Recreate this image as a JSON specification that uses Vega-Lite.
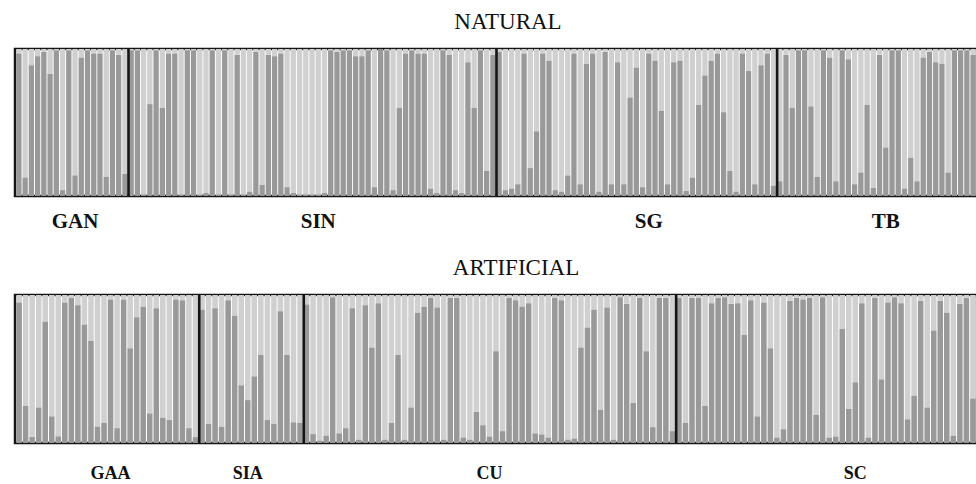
{
  "$schema": "https://vega.github.io/schema/vega-lite/v6.json",
  "padding": {"left": 13, "right": 1, "top": 9, "bottom": 0},
  "background": "white",
  "datasets": {
    "natural": [
      {"id":1,"pop":"GAN","q":0.97},{"id":2,"pop":"GAN","q":0.125},{"id":3,"pop":"GAN","q":0.89},{"id":4,"pop":"GAN","q":0.95},{"id":5,"pop":"GAN","q":0.98},{"id":6,"pop":"GAN","q":0.83},{"id":7,"pop":"GAN","q":0.99},{"id":8,"pop":"GAN","q":0.04},{"id":9,"pop":"GAN","q":0.99},{"id":10,"pop":"GAN","q":0.14},{"id":11,"pop":"GAN","q":0.94},{"id":12,"pop":"GAN","q":0.99},{"id":13,"pop":"GAN","q":0.97},{"id":14,"pop":"GAN","q":0.97},{"id":15,"pop":"GAN","q":0.13},{"id":16,"pop":"GAN","q":0.99},{"id":17,"pop":"GAN","q":0.96},{"id":18,"pop":"GAN","q":0.15},
      {"id":19,"pop":"SIN","q":0.99},{"id":20,"pop":"SIN","q":0.99},{"id":21,"pop":"SIN","q":0.01},{"id":22,"pop":"SIN","q":0.625},{"id":23,"pop":"SIN","q":0.99},{"id":24,"pop":"SIN","q":0.6},{"id":25,"pop":"SIN","q":0.97},{"id":26,"pop":"SIN","q":0.97},{"id":27,"pop":"SIN","q":0.01},{"id":28,"pop":"SIN","q":0.99},{"id":29,"pop":"SIN","q":0.99},{"id":30,"pop":"SIN","q":0.01},{"id":31,"pop":"SIN","q":0.02},{"id":32,"pop":"SIN","q":0.99},{"id":33,"pop":"SIN","q":0.01},{"id":34,"pop":"SIN","q":0.99},{"id":35,"pop":"SIN","q":0.01},{"id":36,"pop":"SIN","q":0.96},{"id":37,"pop":"SIN","q":0.01},{"id":38,"pop":"SIN","q":0.03},{"id":39,"pop":"SIN","q":0.98},{"id":40,"pop":"SIN","q":0.076},{"id":41,"pop":"SIN","q":0.96},{"id":42,"pop":"SIN","q":0.95},{"id":43,"pop":"SIN","q":0.97},{"id":44,"pop":"SIN","q":0.06},{"id":45,"pop":"SIN","q":0.02},{"id":46,"pop":"SIN","q":0.01},{"id":47,"pop":"SIN","q":0.01},{"id":48,"pop":"SIN","q":0.01},{"id":49,"pop":"SIN","q":0.01},{"id":50,"pop":"SIN","q":0.02},{"id":51,"pop":"SIN","q":0.99},{"id":52,"pop":"SIN","q":0.98},{"id":53,"pop":"SIN","q":0.99},{"id":54,"pop":"SIN","q":0.99},{"id":55,"pop":"SIN","q":0.95},{"id":56,"pop":"SIN","q":0.95},{"id":57,"pop":"SIN","q":0.99},{"id":58,"pop":"SIN","q":0.06},{"id":59,"pop":"SIN","q":1.0},{"id":60,"pop":"SIN","q":0.99},{"id":61,"pop":"SIN","q":0.04},{"id":62,"pop":"SIN","q":0.6},{"id":63,"pop":"SIN","q":0.97},{"id":64,"pop":"SIN","q":0.99},{"id":65,"pop":"SIN","q":0.97},{"id":66,"pop":"SIN","q":0.97},{"id":67,"pop":"SIN","q":0.05},{"id":68,"pop":"SIN","q":0.02},{"id":69,"pop":"SIN","q":0.99},{"id":70,"pop":"SIN","q":0.96},{"id":71,"pop":"SIN","q":0.04},{"id":72,"pop":"SIN","q":0.02},{"id":73,"pop":"SIN","q":0.91},{"id":74,"pop":"SIN","q":0.6},{"id":75,"pop":"SIN","q":0.99},{"id":76,"pop":"SIN","q":0.17},{"id":77,"pop":"SIN","q":0.96},
      {"id":78,"pop":"SG","q":0.98},{"id":79,"pop":"SG","q":0.04},{"id":80,"pop":"SG","q":0.05},{"id":81,"pop":"SG","q":0.08},{"id":82,"pop":"SG","q":0.97},{"id":83,"pop":"SG","q":0.19},{"id":84,"pop":"SG","q":0.44},{"id":85,"pop":"SG","q":0.97},{"id":86,"pop":"SG","q":0.92},{"id":87,"pop":"SG","q":0.04},{"id":88,"pop":"SG","q":0.03},{"id":89,"pop":"SG","q":0.14},{"id":90,"pop":"SG","q":0.97},{"id":91,"pop":"SG","q":0.08},{"id":92,"pop":"SG","q":0.9},{"id":93,"pop":"SG","q":0.97},{"id":94,"pop":"SG","q":0.03},{"id":95,"pop":"SG","q":0.98},{"id":96,"pop":"SG","q":0.08},{"id":97,"pop":"SG","q":0.91},{"id":98,"pop":"SG","q":0.08},{"id":99,"pop":"SG","q":0.67},{"id":100,"pop":"SG","q":0.875},{"id":101,"pop":"SG","q":0.06},{"id":102,"pop":"SG","q":0.97},{"id":103,"pop":"SG","q":0.92},{"id":104,"pop":"SG","q":0.58},{"id":105,"pop":"SG","q":0.08},{"id":106,"pop":"SG","q":0.91},{"id":107,"pop":"SG","q":0.92},{"id":108,"pop":"SG","q":0.035},{"id":109,"pop":"SG","q":0.125},{"id":110,"pop":"SG","q":0.62},{"id":111,"pop":"SG","q":0.82},{"id":112,"pop":"SG","q":0.92},{"id":113,"pop":"SG","q":0.97},{"id":114,"pop":"SG","q":0.57},{"id":115,"pop":"SG","q":0.17},{"id":116,"pop":"SG","q":0.03},{"id":117,"pop":"SG","q":0.97},{"id":118,"pop":"SG","q":0.85},{"id":119,"pop":"SG","q":0.08},{"id":120,"pop":"SG","q":0.89},{"id":121,"pop":"SG","q":0.97},{"id":122,"pop":"SG","q":0.07},
      {"id":123,"pop":"TB","q":0.1},{"id":124,"pop":"TB","q":0.96},{"id":125,"pop":"TB","q":0.6},{"id":126,"pop":"TB","q":0.99},{"id":127,"pop":"TB","q":0.99},{"id":128,"pop":"TB","q":0.61},{"id":129,"pop":"TB","q":0.13},{"id":130,"pop":"TB","q":0.99},{"id":131,"pop":"TB","q":0.94},{"id":132,"pop":"TB","q":0.1},{"id":133,"pop":"TB","q":0.99},{"id":134,"pop":"TB","q":0.93},{"id":135,"pop":"TB","q":0.08},{"id":136,"pop":"TB","q":0.16},{"id":137,"pop":"TB","q":0.62},{"id":138,"pop":"TB","q":0.055},{"id":139,"pop":"TB","q":0.96},{"id":140,"pop":"TB","q":0.33},{"id":141,"pop":"TB","q":0.99},{"id":142,"pop":"TB","q":0.99},{"id":143,"pop":"TB","q":0.05},{"id":144,"pop":"TB","q":0.26},{"id":145,"pop":"TB","q":0.1},{"id":146,"pop":"TB","q":0.94},{"id":147,"pop":"TB","q":0.98},{"id":148,"pop":"TB","q":0.91},{"id":149,"pop":"TB","q":0.9},{"id":150,"pop":"TB","q":0.16},{"id":151,"pop":"TB","q":0.99},{"id":152,"pop":"TB","q":0.99},{"id":153,"pop":"TB","q":0.99},{"id":154,"pop":"TB","q":0.96}
    ],
    "artificial": [
      {"id":1,"pop":"GAA","q":0.95},{"id":2,"pop":"GAA","q":0.25},{"id":3,"pop":"GAA","q":0.04},{"id":4,"pop":"GAA","q":0.24},{"id":5,"pop":"GAA","q":0.82},{"id":6,"pop":"GAA","q":0.18},{"id":7,"pop":"GAA","q":0.045},{"id":8,"pop":"GAA","q":0.95},{"id":9,"pop":"GAA","q":0.98},{"id":10,"pop":"GAA","q":0.93},{"id":11,"pop":"GAA","q":0.8},{"id":12,"pop":"GAA","q":0.69},{"id":13,"pop":"GAA","q":0.11},{"id":14,"pop":"GAA","q":0.135},{"id":15,"pop":"GAA","q":0.97},{"id":16,"pop":"GAA","q":0.1},{"id":17,"pop":"GAA","q":0.97},{"id":18,"pop":"GAA","q":0.64},{"id":19,"pop":"GAA","q":0.85},{"id":20,"pop":"GAA","q":0.92},{"id":21,"pop":"GAA","q":0.2},{"id":22,"pop":"GAA","q":0.91},{"id":23,"pop":"GAA","q":0.17},{"id":24,"pop":"GAA","q":0.155},{"id":25,"pop":"GAA","q":0.97},{"id":26,"pop":"GAA","q":0.965},{"id":27,"pop":"GAA","q":0.1},{"id":28,"pop":"GAA","q":0.04},
      {"id":29,"pop":"SIA","q":0.9},{"id":30,"pop":"SIA","q":0.13},{"id":31,"pop":"SIA","q":0.91},{"id":32,"pop":"SIA","q":0.11},{"id":33,"pop":"SIA","q":0.965},{"id":34,"pop":"SIA","q":0.86},{"id":35,"pop":"SIA","q":0.39},{"id":36,"pop":"SIA","q":0.29},{"id":37,"pop":"SIA","q":0.45},{"id":38,"pop":"SIA","q":0.595},{"id":39,"pop":"SIA","q":0.155},{"id":40,"pop":"SIA","q":0.13},{"id":41,"pop":"SIA","q":0.89},{"id":42,"pop":"SIA","q":0.595},{"id":43,"pop":"SIA","q":0.14},{"id":44,"pop":"SIA","q":0.135},
      {"id":45,"pop":"CU","q":0.935},{"id":46,"pop":"CU","q":0.06},{"id":47,"pop":"CU","q":0.016},{"id":48,"pop":"CU","q":0.05},{"id":49,"pop":"CU","q":0.985},{"id":50,"pop":"CU","q":0.065},{"id":51,"pop":"CU","q":0.1},{"id":52,"pop":"CU","q":0.91},{"id":53,"pop":"CU","q":0.023},{"id":54,"pop":"CU","q":0.93},{"id":55,"pop":"CU","q":0.645},{"id":56,"pop":"CU","q":0.945},{"id":57,"pop":"CU","q":0.023},{"id":58,"pop":"CU","q":0.135},{"id":59,"pop":"CU","q":0.595},{"id":60,"pop":"CU","q":0.023},{"id":61,"pop":"CU","q":0.24},{"id":62,"pop":"CU","q":0.88},{"id":63,"pop":"CU","q":0.92},{"id":64,"pop":"CU","q":0.98},{"id":65,"pop":"CU","q":0.915},{"id":66,"pop":"CU","q":0.023},{"id":67,"pop":"CU","q":0.98},{"id":68,"pop":"CU","q":0.98},{"id":69,"pop":"CU","q":0.037},{"id":70,"pop":"CU","q":0.023},{"id":71,"pop":"CU","q":0.21},{"id":72,"pop":"CU","q":0.12},{"id":73,"pop":"CU","q":0.044},{"id":74,"pop":"CU","q":0.62},{"id":75,"pop":"CU","q":0.08},{"id":76,"pop":"CU","q":0.98},{"id":77,"pop":"CU","q":0.965},{"id":78,"pop":"CU","q":0.92},{"id":79,"pop":"CU","q":0.945},{"id":80,"pop":"CU","q":0.065},{"id":81,"pop":"CU","q":0.058},{"id":82,"pop":"CU","q":0.037},{"id":83,"pop":"CU","q":0.98},{"id":84,"pop":"CU","q":0.965},{"id":85,"pop":"CU","q":0.023},{"id":86,"pop":"CU","q":0.03},{"id":87,"pop":"CU","q":0.645},{"id":88,"pop":"CU","q":0.78},{"id":89,"pop":"CU","q":0.9},{"id":90,"pop":"CU","q":0.225},{"id":91,"pop":"CU","q":0.915},{"id":92,"pop":"CU","q":0.023},{"id":93,"pop":"CU","q":0.985},{"id":94,"pop":"CU","q":0.94},{"id":95,"pop":"CU","q":0.27},{"id":96,"pop":"CU","q":0.98},{"id":97,"pop":"CU","q":0.62},{"id":98,"pop":"CU","q":0.107},{"id":99,"pop":"CU","q":0.98},{"id":100,"pop":"CU","q":0.98},{"id":101,"pop":"CU","q":0.08},
      {"id":102,"pop":"SC","q":0.98},{"id":103,"pop":"SC","q":0.135},{"id":104,"pop":"SC","q":0.98},{"id":105,"pop":"SC","q":0.98},{"id":106,"pop":"SC","q":0.25},{"id":107,"pop":"SC","q":0.945},{"id":108,"pop":"SC","q":0.98},{"id":109,"pop":"SC","q":0.985},{"id":110,"pop":"SC","q":0.94},{"id":111,"pop":"SC","q":0.945},{"id":112,"pop":"SC","q":0.73},{"id":113,"pop":"SC","q":0.965},{"id":114,"pop":"SC","q":0.18},{"id":115,"pop":"SC","q":0.95},{"id":116,"pop":"SC","q":0.64},{"id":117,"pop":"SC","q":0.037},{"id":118,"pop":"SC","q":0.093},{"id":119,"pop":"SC","q":0.96},{"id":120,"pop":"SC","q":0.98},{"id":121,"pop":"SC","q":0.97},{"id":122,"pop":"SC","q":0.98},{"id":123,"pop":"SC","q":0.19},{"id":124,"pop":"SC","q":0.985},{"id":125,"pop":"SC","q":0.037},{"id":126,"pop":"SC","q":0.044},{"id":127,"pop":"SC","q":0.77},{"id":128,"pop":"SC","q":0.23},{"id":129,"pop":"SC","q":0.41},{"id":130,"pop":"SC","q":0.945},{"id":131,"pop":"SC","q":0.037},{"id":132,"pop":"SC","q":0.98},{"id":133,"pop":"SC","q":0.43},{"id":134,"pop":"SC","q":0.95},{"id":135,"pop":"SC","q":0.985},{"id":136,"pop":"SC","q":0.945},{"id":137,"pop":"SC","q":0.16},{"id":138,"pop":"SC","q":0.32},{"id":139,"pop":"SC","q":0.96},{"id":140,"pop":"SC","q":0.24},{"id":141,"pop":"SC","q":0.76},{"id":142,"pop":"SC","q":0.96},{"id":143,"pop":"SC","q":0.88},{"id":144,"pop":"SC","q":0.05},{"id":145,"pop":"SC","q":0.94},{"id":146,"pop":"SC","q":0.98},{"id":147,"pop":"SC","q":0.3}
    ],
    "naturalBreaks": [{"id":19},{"id":78},{"id":123}],
    "artificialBreaks": [{"id":29},{"id":45},{"id":102}]
  },
  "config": {
    "view": {"stroke": "#141414", "strokeWidth": 2.5},
    "axis": {"domain": false, "ticks": false, "grid": false, "labelFont": "Liberation Serif", "labelFontWeight": "bold", "labelColor": "#111111", "title": null},
    "title": {"font": "Liberation Serif", "fontSize": 23, "fontWeight": "normal", "color": "#111111", "anchor": "middle"},
    "concat": {"spacing": 22}
  },
  "vconcat": [
    {
      "width": 962,
      "height": 147,
      "title": {"text": "NATURAL", "offset": 14, "dx": 12},
      "layer": [
        {
          "data": {"name": "natural"},
          "mark": {"type": "bar", "color": "#d0d0d0"},
          "encoding": {
            "x": {"field": "id", "type": "ordinal", "scale": {"paddingInner": 0.15, "paddingOuter": 0.2},
                  "axis": {"values": [10, 49, 102, 140], "labelExpr": "datum.value == 10 ? 'GAN' : datum.value == 49 ? 'SIN' : datum.value == 102 ? 'SG' : 'TB'", "labelAngle": 0, "labelFontSize": 21, "labelPadding": 14}},
            "y": {"field": "q", "type": "quantitative", "scale": {"domain": [0, 1], "nice": false}, "axis": null},
            "y2": {"datum": 1}
          }
        },
        {
          "data": {"name": "natural"},
          "mark": {"type": "bar", "color": "#999999"},
          "encoding": {
            "x": {"field": "id", "type": "ordinal"},
            "y": {"field": "q", "type": "quantitative"}
          }
        },
        {
          "data": {"name": "naturalBreaks"},
          "mark": {"type": "rule", "color": "#141414", "strokeWidth": 2.6},
          "encoding": {
            "x": {"field": "id", "type": "ordinal", "bandPosition": 0}
          }
        }
      ]
    },
    {
      "width": 962,
      "height": 148,
      "title": {"text": "ARTIFICIAL", "offset": 14, "dx": 20},
      "layer": [
        {
          "data": {"name": "artificial"},
          "mark": {"type": "bar", "color": "#d0d0d0"},
          "encoding": {
            "x": {"field": "id", "type": "ordinal", "scale": {"paddingInner": 0.15, "paddingOuter": 0.2},
                  "axis": {"values": [15, 36, 73, 129], "labelExpr": "datum.value == 15 ? 'GAA' : datum.value == 36 ? 'SIA' : datum.value == 73 ? 'CU' : 'SC'", "labelAngle": 0, "labelFontSize": 18, "labelPadding": 21}},
            "y": {"field": "q", "type": "quantitative", "scale": {"domain": [0, 1], "nice": false}, "axis": null},
            "y2": {"datum": 1}
          }
        },
        {
          "data": {"name": "artificial"},
          "mark": {"type": "bar", "color": "#999999"},
          "encoding": {
            "x": {"field": "id", "type": "ordinal"},
            "y": {"field": "q", "type": "quantitative"}
          }
        },
        {
          "data": {"name": "artificialBreaks"},
          "mark": {"type": "rule", "color": "#141414", "strokeWidth": 2.6},
          "encoding": {
            "x": {"field": "id", "type": "ordinal", "bandPosition": 0}
          }
        }
      ]
    }
  ]
}
